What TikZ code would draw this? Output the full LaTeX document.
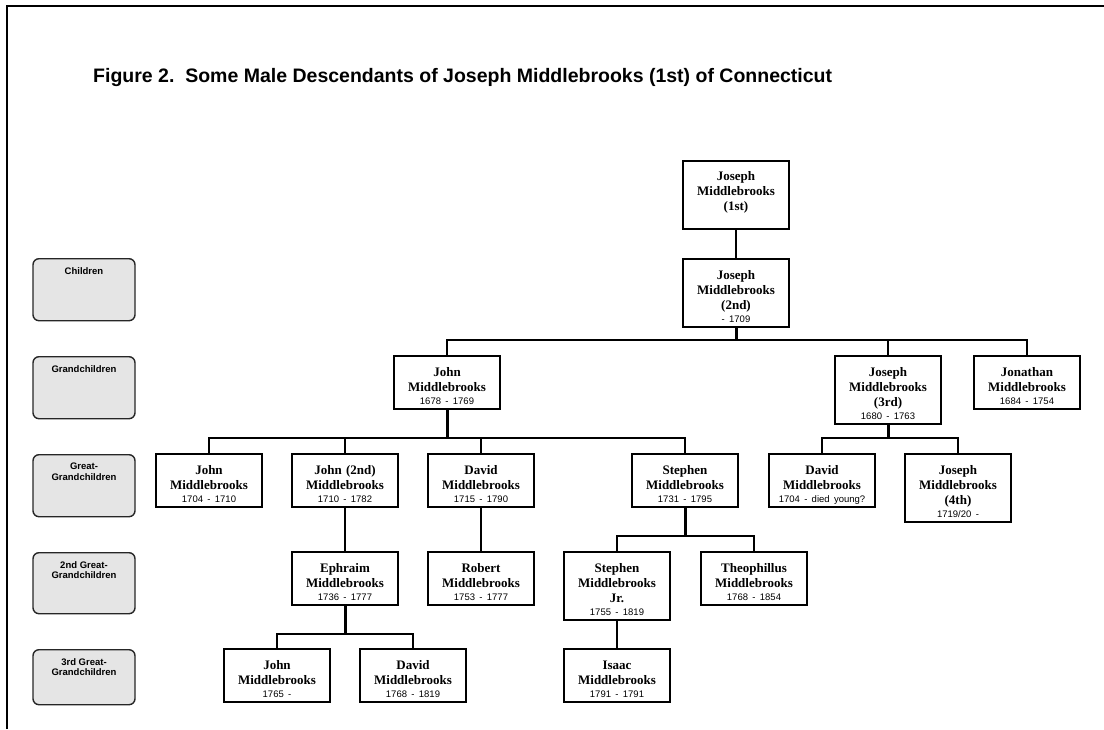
\documentclass[tikz,border=0pt]{standalone}
\usepackage{fontspec}
\setmainfont{Liberation Serif}
\setsansfont{Liberation Sans}
\newcommand{\dt}[1]{{\fontsize{9.5}{11}\selectfont\sffamily\mdseries #1}}
\newcommand{\lvl}[2]{\parbox[t][#1][t]{102pt}{\centering\vspace*{8.5pt}#2}}
\tikzset{
  person/.style={draw=black, line width=2pt, fill=white, anchor=north,
    minimum width=106pt, text width=104pt, align=center, inner sep=0pt,
    font=\fontsize{13}{15}\selectfont\bfseries,
    execute at begin node={\rule{0pt}{17pt}}},
  topbox/.style={execute at end node={\rule[-17pt]{0pt}{17pt}}},
  hA/.style={minimum height=53pt},
  hB/.style={minimum height=68pt},
  level/.style={draw=black!85, line width=1.4pt, fill=black!10, rounded corners=6pt,
    anchor=north, inner sep=0pt, font=\fontsize{9.5}{10.5}\selectfont\sffamily\bfseries},
  conn/.style={line width=2pt},
  stub/.style={line width=3pt},
}
\begin{document}
\begin{tikzpicture}[x=1pt,y=-1pt]
\useasboundingbox (0,0) rectangle (1104,729);
\draw[line width=2pt] (7,729) -- (7,6) -- (1104,6);

\node[anchor=base west, inner sep=0pt, font=\fontsize{19.5}{23}\selectfont\sffamily\bfseries] (title) at (93,82)
  {Figure 2.\ \ Some Male Descendants of Joseph Middlebrooks (1st) of Connecticut};

% generation labels
\node[level] (L1) at (84,258) {\lvl{62pt}{Children}};
\node[level] (L2) at (84,356) {\lvl{62pt}{Grandchildren}};
\node[level] (L3) at (84,454) {\lvl{62pt}{Great-\\Grandchildren}};
\node[level] (L4) at (84,552) {\lvl{61pt}{2nd Great-\\Grandchildren}};
\node[level] (L5) at (84,649) {\lvl{55pt}{3rd Great-\\Grandchildren}};

% people
\node[person,hB,topbox] (J1) at (736,160) {Joseph\\Middlebrooks\\(1st)};
\node[person,hB] (J2) at (736,258) {Joseph\\Middlebrooks\\(2nd)\\[-2pt]\dt{- 1709}};

\node[person,hA] (JohnG) at (447,355) {John\\Middlebrooks\\[-2pt]\dt{1678 - 1769}};
\node[person,hB] (J3) at (888,355) {Joseph\\Middlebrooks\\(3rd)\\[-2pt]\dt{1680 - 1763}};
\node[person,hA] (Jon) at (1027,355) {Jonathan\\Middlebrooks\\[-2pt]\dt{1684 - 1754}};

\node[person,hA] (JohnGG) at (209,453) {John\\Middlebrooks\\[-2pt]\dt{1704 - 1710}};
\node[person,hA] (John2) at (345,453) {John (2nd)\\Middlebrooks\\[-2pt]\dt{1710 - 1782}};
\node[person,hA] (DavidGG) at (481,453) {David\\Middlebrooks\\[-2pt]\dt{1715 - 1790}};
\node[person,hA] (Steph) at (685,453) {Stephen\\Middlebrooks\\[-2pt]\dt{1731 - 1795}};
\node[person,hA] (DavidJ3) at (822,453) {David\\Middlebrooks\\[-2pt]\dt{1704 - died young?}};
\node[person,hB] (J4) at (958,453) {Joseph\\Middlebrooks\\(4th)\\[-2pt]\dt{1719/20 -}};

\node[person,hA] (Eph) at (345,551) {Ephraim\\Middlebrooks\\[-2pt]\dt{1736 - 1777}};
\node[person,hA] (Rob) at (481,551) {Robert\\Middlebrooks\\[-2pt]\dt{1753 - 1777}};
\node[person,hB] (StephJr) at (617,551) {Stephen\\Middlebrooks\\Jr.\\[-2pt]\dt{1755 - 1819}};
\node[person,hA] (Theo) at (754,551) {Theophillus\\Middlebrooks\\[-2pt]\dt{1768 - 1854}};

\node[person,hA] (JohnG3) at (277,648) {John\\Middlebrooks\\[-2pt]\dt{1765 -}};
\node[person,hA] (DavidG3) at (413,648) {David\\Middlebrooks\\[-2pt]\dt{1768 - 1819}};
\node[person,hA] (Isaac) at (617,648) {Isaac\\Middlebrooks\\[-2pt]\dt{1791 - 1791}};

% connectors
\draw[conn] (J1.south) -- (J2.north);

\coordinate (f1) at (736,340);
\draw[stub] (J2.south) -- (f1);
\draw[conn] (JohnG.north) -- (JohnG.north |- f1) -- (Jon.north |- f1) -- (Jon.north);
\draw[conn] (J3.north) -- (J3.north |- f1);

\coordinate (f2) at (447,438);
\draw[stub] (JohnG.south) -- (f2);
\draw[conn] (JohnGG.north) -- (JohnGG.north |- f2) -- (Steph.north |- f2) -- (Steph.north);
\draw[conn] (John2.north) -- (John2.north |- f2);
\draw[conn] (DavidGG.north) -- (DavidGG.north |- f2);

\coordinate (f3) at (888,438);
\draw[stub] (J3.south) -- (f3);
\draw[conn] (DavidJ3.north) -- (DavidJ3.north |- f3) -- (J4.north |- f3) -- (J4.north);

\draw[conn] (John2.south) -- (Eph.north);
\draw[conn] (DavidGG.south) -- (Rob.north);

\coordinate (f4) at (685,536);
\draw[stub] (Steph.south) -- (f4);
\draw[conn] (StephJr.north) -- (StephJr.north |- f4) -- (Theo.north |- f4) -- (Theo.north);

\coordinate (f5) at (345,634);
\draw[stub] (Eph.south) -- (f5);
\draw[conn] (JohnG3.north) -- (JohnG3.north |- f5) -- (DavidG3.north |- f5) -- (DavidG3.north);

\draw[conn] (StephJr.south) -- (Isaac.north);
\end{tikzpicture}
\end{document}
